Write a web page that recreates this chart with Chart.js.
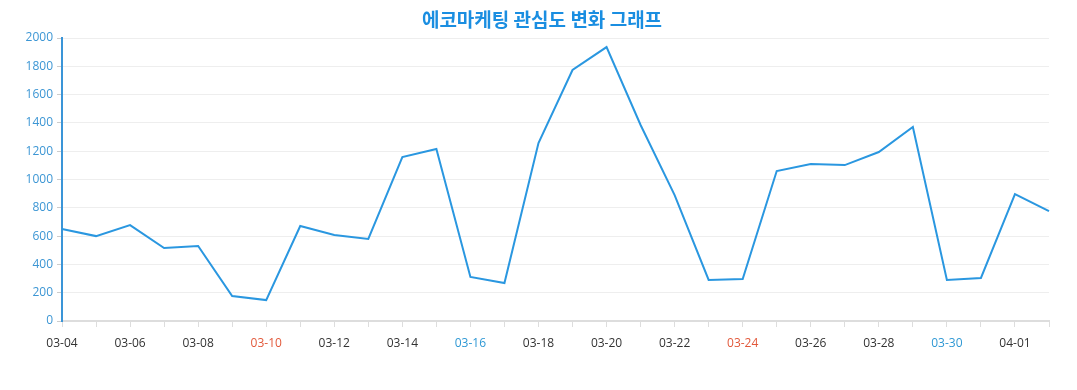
<!DOCTYPE html>
<html>
<head>
<meta charset="utf-8">
<script src="https://cdn.jsdelivr.net/npm/chart.js@4"></script>
<style>
  html, body { margin: 0; padding: 0; background: #fff; }
  #wrap { width: 1077px; height: 390px; }
</style>
</head>
<body>
<div id="wrap"><canvas id="trend-chart"></canvas></div>
<script>
    "use strict";

    // Chart data
    const chartTitle = '에코마케팅 관심도 변화 그래프';
    const dates = [
        '03-04', '03-05', '03-06', '03-07', '03-08', '03-09', '03-10', '03-11', '03-12', '03-13',
        '03-14', '03-15', '03-16', '03-17', '03-18', '03-19', '03-20', '03-21', '03-22', '03-23',
        '03-24', '03-25', '03-26', '03-27', '03-28', '03-29', '03-30', '03-31', '04-01', '04-02'
    ];
    const interest = [
        650, 600, 678, 516, 530, 177, 148, 671, 608, 580,
        1159, 1216, 311, 268, 1258, 1774, 1936, 1385, 890, 290,
        297, 1060, 1110, 1102, 1194, 1371, 290, 304, 897, 777
    ];
    const sundays = ['03-10', '03-24'];
    const saturdays = ['03-16', '03-30'];

    const tickFont = { family: "'Open Sans', 'Noto Sans', sans-serif", size: 12 };

    // Title drawn by hand so it can sit a bit right of the canvas centre
    const titlePlugin = {
        id: 'manualTitle',
        afterDraw: function (chart) {
            const c = chart.ctx;
            c.save();
            c.font = "bold 19px 'Noto Sans CJK KR', sans-serif";
            c.fillStyle = '#1a8ee1';
            c.textAlign = 'center';
            c.textBaseline = 'middle';
            c.fillText(chartTitle, 542, 20);
            c.restore();
        }
    };

    const ctx = document.getElementById('trend-chart').getContext('2d');
    new Chart(ctx, {
        type: 'line',
        data: {
            labels: dates,
            datasets: [{
                label: '관심도',
                data: interest,
                borderColor: '#2a97e0',
                borderWidth: 2,
                pointRadius: 0,
                tension: 0,
                fill: false,
            }]
        },
        options: {
            responsive: true,
            maintainAspectRatio: false,
            animation: false,
            layout: { padding: { left: 0, right: 28, top: 38, bottom: 0 } },
            plugins: {
                legend: { display: false },
                tooltip: { enabled: false },
                title: { display: false },
            },
            scales: {
                x: {
                    grid: { drawOnChartArea: false, tickLength: 6, color: '#dddddd' },
                    border: { color: '#dddddd', width: 2 },
                    ticks: {
                        autoSkip: false,
                        maxRotation: 0,
                        padding: 9,
                        font: tickFont,
                        callback: function (value, index) {
                            return index % 2 === 0 ? dates[index] : '';
                        },
                        color: function (c) {
                            const d = dates[c.index];
                            if (sundays.includes(d)) return '#e2583a';
                            if (saturdays.includes(d)) return '#2f98d4';
                            return '#333333';
                        },
                    },
                    afterFit: function (scale) { scale.height = 69; },
                },
                y: {
                    min: 0,
                    max: 2000,
                    grid: { color: '#eeeeee', tickLength: 5, tickColor: '#cccccc' },
                    border: { color: '#3a95d8', width: 2 },
                    ticks: {
                        stepSize: 200,
                        padding: 4,
                        color: '#3c96d4',
                        font: tickFont,
                        callback: function (value) { return String(value); },
                    },
                    afterFit: function (scale) { scale.width = 62; },
                },
            },
        },
        plugins: [titlePlugin],
    });
</script>
</body>
</html>
